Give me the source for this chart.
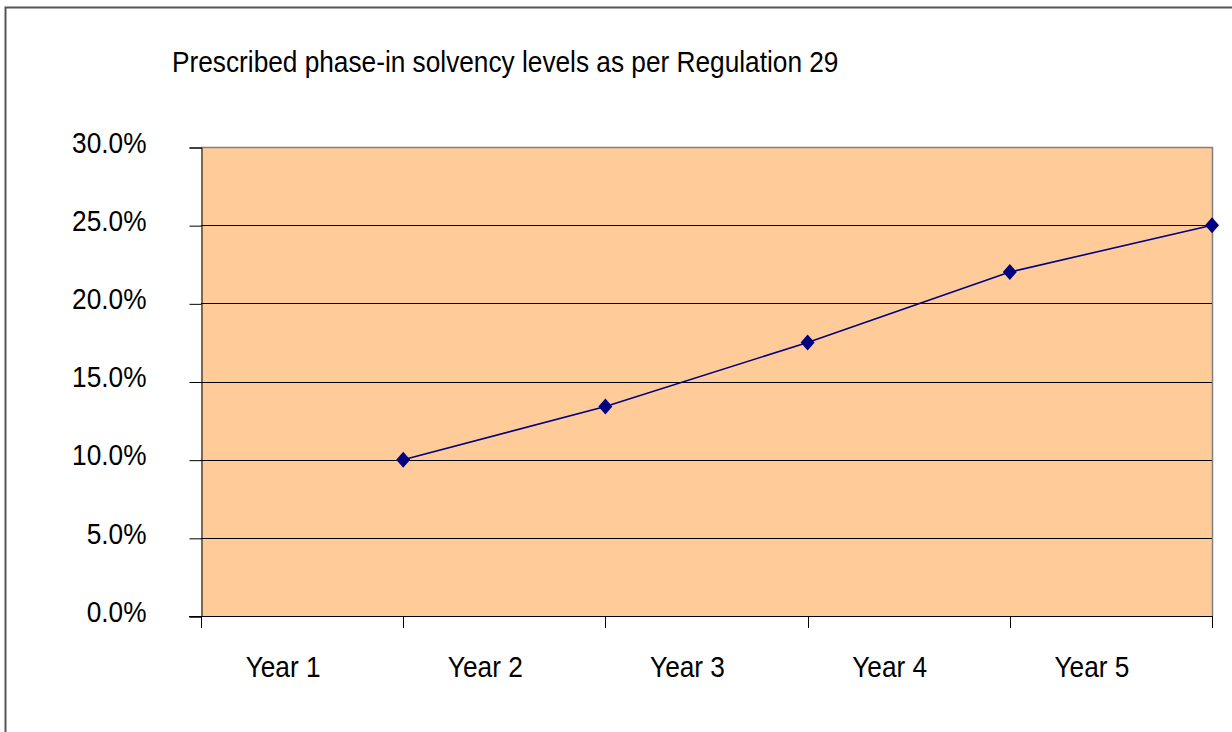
<!DOCTYPE html>
<html>
<head>
<meta charset="utf-8">
<script src="https://cdn.jsdelivr.net/npm/d3@7"></script>
<style>
  body { margin: 0; background: #fff; }
  text { font-family: 'Liberation Sans', Arial, sans-serif; fill: #000; }
</style>
</head>
<body>
<div id="chart"></div>
<script>
// Data
const years = ['Year 1', 'Year 2', 'Year 3', 'Year 4', 'Year 5']
const levels = [0.10, 0.134, 0.175, 0.22, 0.25]
const yTicks = [0, 0.05, 0.10, 0.15, 0.20, 0.25, 0.30]
const title = 'Prescribed phase-in solvency levels as per Regulation 29'

const width = 1232
const height = 732
const margin = { top: 147, left: 201, right: 20, bottom: 116 }
// the original uses a condensed face, so squeeze text horizontally
const squeeze = 0.875

const svg = d3
  .select('#chart')
  .append('svg')
  .attr('width', width)
  .attr('height', height)

// chart border (runs off the bottom/right of the picture)
svg
  .append('rect')
  .attr('x', 5.5)
  .attr('y', 7.5)
  .attr('width', width + 20)
  .attr('height', height + 20)
  .attr('fill', 'none')
  .attr('stroke', '#555')
  .attr('stroke-width', 2)

// Scales
const xScale = d3
  .scaleBand()
  .domain(years)
  .range([margin.left, width - margin.right])
  .padding(0)
const yScale = d3
  .scaleLinear()
  .domain([0, 0.3])
  .range([height - margin.bottom, margin.top])

const x0 = xScale.range()[0]
const x1 = xScale.range()[1]
const y0 = yScale(0)
const yTop = yScale(0.3)

// Plot area
svg
  .append('rect')
  .attr('x', x0)
  .attr('y', yTop)
  .attr('width', x1 - x0)
  .attr('height', y0 - yTop)
  .attr('fill', '#ffcc99')

// Gridlines
svg
  .append('g')
  .selectAll('line')
  .data(yTicks.filter(d => d > 0 && d < 0.3))
  .enter()
  .append('line')
  .attr('x1', x0)
  .attr('x2', x1)
  .attr('y1', d => Math.round(yScale(d)) + 0.5)
  .attr('y2', d => Math.round(yScale(d)) + 0.5)
  .attr('stroke', '#000')
  .attr('stroke-width', 1)

// top and right border of the plot
svg
  .append('path')
  .attr('d', `M${x0},${Math.round(yTop) + 0.5}H${x1 + 0.5}V${y0}`)
  .attr('fill', 'none')
  .attr('stroke', '#808080')
  .attr('stroke-width', 1.5)

// Y axis
const yAxis = d3
  .axisLeft(yScale)
  .tickValues(yTicks)
  .tickFormat(d3.format('.1%'))
  .tickSize(12)
const yG = svg
  .append('g')
  .attr('class', 'axis y-axis')
  .attr('transform', 'translate(' + (x0 + 0.5) + ',0.5)')
  .call(yAxis)
yG.select('.domain').attr('stroke', '#000')
yG.selectAll('.tick line').attr('stroke', '#000')
yG.selectAll('.tick text')
  .attr('x', 0)
  .attr('dy', '0.16em')
  .attr('transform', 'translate(-55,0) scale(' + squeeze + ',1)')
  .style('font-size', '30px')

// X axis: ticks on the category boundaries
const xBounds = [x0].concat(years.map(d => xScale(d) + xScale.bandwidth()))
const xG = svg.append('g').attr('class', 'axis x-axis')
xG.append('line')
  .attr('x1', x0 - 12)
  .attr('x2', x1)
  .attr('y1', y0 + 0.5)
  .attr('y2', y0 + 0.5)
  .attr('stroke', '#000')
xG.selectAll('.xtick')
  .data(xBounds)
  .enter()
  .append('line')
  .attr('class', 'xtick')
  .attr('x1', d => Math.round(d) + 0.5)
  .attr('x2', d => Math.round(d) + 0.5)
  .attr('y1', y0)
  .attr('y2', y0 + 12)
  .attr('stroke', '#000')
xG.selectAll('.xlabel')
  .data(years)
  .enter()
  .append('text')
  .attr('class', 'xlabel')
  .attr('text-anchor', 'middle')
  .attr('transform', d => 'translate(' + (xScale(d) + xScale.bandwidth() / 2 - 19) + ',677) scale(' + squeeze + ',1)')
  .style('font-size', '30px')
  .text(d => d)

// Line + diamond markers (each value sits at the end of its year)
const points = years.map((d, i) => ({ x: xScale(d) + xScale.bandwidth(), y: yScale(levels[i]) }))
const line = d3
  .line()
  .x(d => d.x)
  .y(d => d.y)
svg
  .append('path')
  .datum(points)
  .attr('d', line)
  .attr('fill', 'none')
  .attr('stroke', '#000080')
  .attr('stroke-width', 1.6)

svg
  .selectAll('.marker')
  .data(points)
  .enter()
  .append('path')
  .attr('class', 'marker')
  .attr('d', d => `M${d.x},${d.y - 8}L${d.x + 7},${d.y}L${d.x},${d.y + 8}L${d.x - 7},${d.y}Z`)
  .attr('fill', '#000080')

// Title
svg
  .append('text')
  .attr('transform', 'translate(172,72) scale(' + squeeze + ',1)')
  .style('font-size', '30px')
  .text(title)
</script>
</body>
</html>
